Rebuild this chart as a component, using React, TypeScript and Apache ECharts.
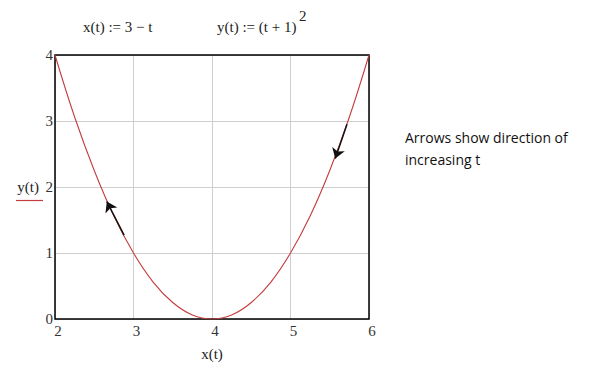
import React, { useEffect, useRef } from "react";
import * as echarts from "echarts";

const xValues = [2, 2.25, 2.5, 2.75, 3, 3.25, 3.5, 3.75, 4, 4.25, 4.5, 4.75, 5, 5.25, 5.5, 5.75, 6];
const yValues = [4, 3.06, 2.25, 1.56, 1, 0.56, 0.25, 0.06, 0, 0.06, 0.25, 0.56, 1, 1.56, 2.25, 3.06, 4];
const xTicks = [2, 3, 4, 5, 6];
const yTicks = [0, 1, 2, 3, 4];
const arrowTails = [[2.88, 1.27], [5.72, 2.95]];
const arrowHeads = [[2.66, 1.78], [5.57, 2.43]];
const titleX = "x(t) := 3 \u2212 t";
const titleY = "y(t) := (t + 1)";
const titleYExp = "2";
const note = ["Arrows show direction of", "increasing t"];

export default function App() {
  const ref = useRef<HTMLDivElement>(null);
  useEffect(() => {
    if (!ref.current) return;
    const chart = echarts.init(ref.current, null, { renderer: "svg" });
    const serif = "Liberation Serif";
    chart.setOption({
      animation: false,
      backgroundColor: "#fff",
      grid: {
        left: 55,
        top: 55,
        width: 314,
        height: 264,
        show: true,
        borderColor: "#000",
        borderWidth: 1.5,
        backgroundColor: "transparent",
        z: 3,
      },
      xAxis: {
        type: "value",
        min: xTicks[0],
        max: xTicks[xTicks.length - 1],
        interval: 1,
        name: "x(t)",
        nameLocation: "middle",
        nameGap: 27,
        nameTextStyle: { fontFamily: serif, fontSize: 15, color: "#222" },
        axisLine: { show: false },
        axisTick: { show: false },
        axisLabel: {
          fontFamily: serif,
          fontSize: 15,
          color: "#333",
          margin: 4,
          padding: [0, 0, 0, 6],
        },
        splitLine: { show: true, lineStyle: { color: "#cfcfcf", width: 1 } },
      },
      yAxis: {
        type: "value",
        min: yTicks[0],
        max: yTicks[yTicks.length - 1],
        interval: 1,
        name: "y(t)",
        nameLocation: "middle",
        nameRotate: 0,
        nameGap: 16,
        nameTextStyle: { fontFamily: serif, fontSize: 15, color: "#222", align: "right" },
        axisLine: { show: false },
        axisTick: { show: false },
        axisLabel: {
          fontFamily: serif,
          fontSize: 15,
          color: "#333",
          margin: 2,
          padding: [2, 0, 0, 0],
        },
        splitLine: { show: true, lineStyle: { color: "#cfcfcf", width: 1 } },
      },
      series: [
        {
          type: "line",
          data: xValues.map((x, i) => [x, yValues[i]]),
          smooth: 0.4,
          showSymbol: false,
          lineStyle: { color: "#c43c3c", width: 1.1 },
          z: 4,
        },
        {
          type: "lines",
          coordinateSystem: "cartesian2d",
          data: arrowTails.map((t, i) => ({ coords: [t, arrowHeads[i]] })),
          symbol: ["none", "arrow"],
          symbolSize: 10,
          lineStyle: { color: "#111", width: 1.5, opacity: 1 },
          z: 5,
        },
      ],
      graphic: [
        { type: "text", left: 83, top: 19, style: { text: titleX, font: `15px ${serif}`, fill: "#222" } },
        { type: "text", left: 217, top: 19, style: { text: titleY, font: `15px ${serif}`, fill: "#222" } },
        { type: "text", left: 299, top: 8, style: { text: titleYExp, font: `15px ${serif}`, fill: "#222" } },
        { type: "line", shape: { x1: 16, y1: 200.5, x2: 43, y2: 200.5 }, style: { stroke: "#c43c3c", lineWidth: 1.2 } },
        { type: "text", left: 405, top: 130, style: { text: note[0], font: "14px 'Open Sans'", fill: "#111" } },
        { type: "text", left: 405, top: 152, style: { text: note[1], font: "14px 'Open Sans'", fill: "#111" } },
      ],
    });
    return () => chart.dispose();
  }, []);
  return <div ref={ref} style={{ position: "fixed", left: 0, top: 0, width: 608, height: 376 }} />;
}
